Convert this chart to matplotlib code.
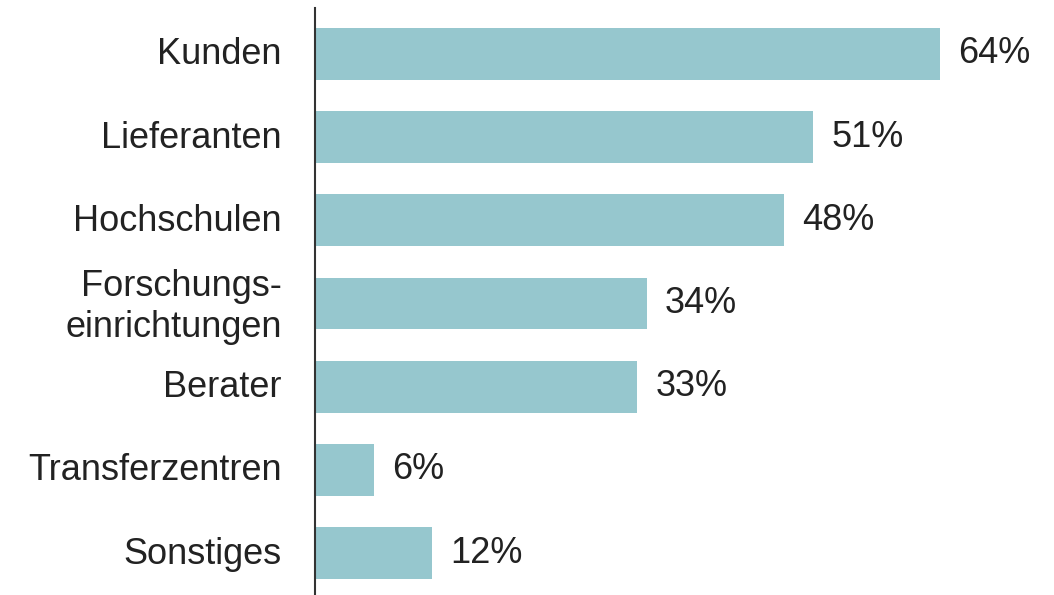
"""Kooperationspartner: Anteil der Nennungen je Partnertyp."""

import matplotlib
matplotlib.use("Agg")
import matplotlib.pyplot as plt
import matplotlib.transforms as mtransforms

partners = [
    "Kunden",
    "Lieferanten",
    "Hochschulen",
    "Forschungs-\neinrichtungen",
    "Berater",
    "Transferzentren",
    "Sonstiges",
]
shares = [64, 51, 48, 34, 33, 6, 12]

BAR_COLOR = "#96c7ce"
TEXT_COLOR = "#222222"

plt.rcParams["font.family"] = ["Liberation Sans", "DejaVu Sans"]

fig = plt.figure(figsize=(10.54, 5.95), dpi=100)
ax = fig.add_axes([315 / 1054, 0, 1 - 315 / 1054, 1 - 8 / 595])

ypos = list(range(len(partners)))
ax.barh(ypos, shares, height=0.625, color=BAR_COLOR, zorder=2)

for y, v in zip(ypos, shares):
    ax.annotate(f"{v}%", xy=(v, y), xytext=(13, 0), textcoords="offset points",
                ha="left", va="center", fontsize=26, color=TEXT_COLOR)

ax.set_xlim(0, 739 / 9.766)
ax.set_ylim(6.505, -0.553)

ax.set_yticks(ypos)
ax.set_yticklabels(partners, fontsize=26, color=TEXT_COLOR)
ax.tick_params(axis="y", length=0, pad=24)
ax.set_xticks([])

# nudge category labels up a little
lift = mtransforms.ScaledTranslation(0, 0.03, fig.dpi_scale_trans)
for lbl in ax.get_yticklabels():
    lbl.set_transform(lbl.get_transform() + lift)

for side in ("top", "right", "bottom"):
    ax.spines[side].set_visible(False)
ax.spines["left"].set_color("#333333")
ax.spines["left"].set_linewidth(1.5)
ax.spines["left"].set_zorder(3)

fig.savefig("out.png", dpi=100)
